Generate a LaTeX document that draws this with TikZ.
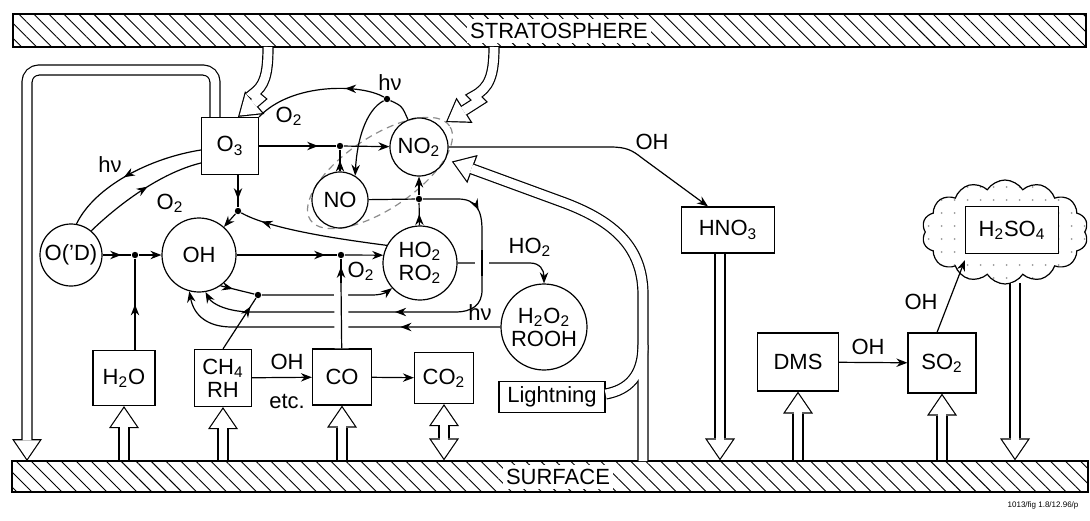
\documentclass[tikz,border=0pt]{standalone}
\usepackage{fontspec}
\setmainfont{Liberation Sans}
\usetikzlibrary{arrows.meta,positioning,calc,shapes.geometric,shapes.symbols,patterns.meta,decorations.markings}

\newcommand{\chsub}[1]{\textsubscript{#1}}
\newcommand{\chemfont}{\fontsize{11}{11.5}\selectfont}
\newcommand{\hollowarrow}[2][]{\draw[hollowout,#1] #2; \draw[hollowin,#1] #2;}
\newcommand{\hollowboth}[1]{\draw[hollowbothout] #1; \draw[hollowbothin] #1;}

\tikzset{
  chemtip/.tip={Stealth[length=5.5pt,width=4.2pt]},
  bigtip/.tip={Triangle[length=11pt,width=15pt,line width=0pt]},
  bigtipin/.tip={Triangle[length=9.3pt,width=12.7pt,line width=0pt]},
  hollowout/.style={draw=black, line width=5.6pt, -bigtip},
  hollowin/.style={draw=white, line width=4.4pt, -bigtipin, shorten >=1.07pt},
  hollowbothout/.style={draw=black, line width=5.6pt, bigtip-bigtip},
  hollowbothin/.style={draw=white, line width=4.4pt, bigtipin-bigtipin, shorten >=1.07pt, shorten <=1.07pt},
  shaftout/.style={draw=black, line width=5.6pt},
  shaftin/.style={draw=white, line width=4.4pt}
}

\begin{document}
\begin{tikzpicture}[x=0.5pt, y=-0.5pt, line width=0.6pt,
  every node/.style={font=\chemfont},
  species/.style={draw, circle, inner sep=0pt, align=center},
  specbox/.style={draw, rectangle, inner sep=0pt, align=center},
  jdot/.style={circle, fill, inner sep=0pt, minimum size=3.2pt},
  lbl/.style={inner sep=1pt},
  band/.style={draw, rectangle, inner sep=0pt, pattern={Lines[angle=-45,distance=5.3pt,line width=0.45pt]}},
  bandlbl/.style={fill=white, inner xsep=1.5pt, inner ysep=0pt, minimum height=12pt},
  noxring/.style={draw=black!45, dash pattern=on 3.5pt off 2.5pt, ellipse, inner sep=0pt, minimum width=84pt, minimum height=36pt, rotate=34},
  cloudy/.style={draw, cloud, cloud puffs=14, cloud puff arc=115, aspect=1.6, minimum width=83pt, minimum height=52pt, inner sep=0pt,
    path picture={\foreach \i in {0,...,14}{\foreach \j in {0,...,8}{\fill[black!40] ([shift={(\i*6.5pt+3pt,\j*6.5pt+3pt)}]path picture bounding box.south west) circle[radius=0.5pt];}}}},
  arr/.style={-chemtip},
  midarr/.style={postaction={decorate}, decoration={markings, mark=at position #1 with {\arrow{chemtip}}}},
  midarr/.default=0.5,
  arrdot/.style={postaction={decorate}, decoration={markings, mark=at position -#1 with {\arrow{chemtip}}}},
  arrdot/.default=4pt,
  bridge/.style={preaction={draw, white, line width=7pt}}
]
  \useasboundingbox (0,0) rectangle (1090,520);

  % boundaries
  \node[band, minimum width=536.5pt, minimum height=16.5pt] (strat) at (549.5,30.5) {};
  \node[band, minimum width=538pt, minimum height=15.5pt] (surf) at (550,476.5) {};
  \node[bandlbl] (stratlbl) at (559,31) {STRATOSPHERE};
  \node[bandlbl] (surflbl) at (558,477) {SURFACE};

  \node[noxring] (ring) at (380,173) {};

  % species
  \node[species, minimum size=31pt] (ODs) at (71,255) {O('D)};
  \node[species, minimum size=37pt] (OH) at (199,255) {OH};
  \node[species, minimum size=28pt] (NO) at (340,200) {NO};
  \node[species, minimum size=29pt] (NO2) at (419,147) {NO\chsub{2}};
  \node[species, minimum size=37pt] (HO2) at (420,263) {HO\chsub{2}\\RO\chsub{2}};
  \node[species, minimum size=43pt] (H2O2) at (544,327) {H\chsub{2}O\chsub{2}\\ROOH};

  \node[specbox, minimum width=28.5pt, minimum height=28.5pt] (O3) at (230,146) {O\chsub{3}};
  \node[specbox, minimum width=31pt, minimum height=27.5pt] (H2O) at (124,378) {H\chsub{2}O};
  \node[specbox, minimum width=28.5pt, minimum height=28.5pt] (CH4) at (223,378) {CH\chsub{4}\\RH};
  \node[specbox, minimum width=29.5pt, minimum height=28pt] (CO) at (342,377) {CO};
  \node[specbox, minimum width=29.5pt, minimum height=25.5pt] (CO2) at (444,378) {CO\chsub{2}};
  \node[specbox, minimum width=53pt, minimum height=15.5pt] (light) at (552,397) {Lightning};
  \node[specbox, minimum width=46.5pt, minimum height=23pt] (HNO3) at (728,230) {HNO\chsub{3}};
  \node[specbox, minimum width=40.5pt, minimum height=29pt] (DMS) at (798,362) {DMS};
  \node[specbox, minimum width=34pt, minimum height=30pt] (SO2) at (942,363) {SO\chsub{2}};
  \node[cloudy] (cloud) at (1005,232) {};
  \node[specbox, fill=white, minimum width=46.5pt, minimum height=23.5pt] (H2SO4) at (1012,230) {H\chsub{2}SO\chsub{4}};

  % junctions
  \node[jdot] (j1) at (135,255) {};
  \node[jdot] (j2) at (238,211) {};
  \node[jdot] (j3) at (258,295) {};
  \node[jdot] (j4) at (341,255) {};
  \node[jdot] (j5) at (340,146) {};
  \node[jdot] (j6) at (419,199) {};
  \node[jdot] (j7) at (387,99) {};

  % ozone and NOx
  \draw[arrdot=9pt] (O3) -- (j5);
  \draw[arr] (j5) -- (NO2);
  \draw[midarr] (NO) -- (j5);
  \draw (NO2.112) .. controls (402,106) .. (j7);
  \draw[midarr=0.3] (j7) .. controls (362,84) and (292,82) .. (O3.north east);
  \draw[arr] (j7) .. controls (366,110) and (357,140) .. (NO.58);
  \draw[midarr] (HO2) -- (j6);
  \draw[arr] (j6) -- (NO2);
  \draw (NO) -- (j6);
  \node[lbl] (lhva) at (390,83) {hν};
  \node[lbl] (lO2a) at (289,116) {O\chsub{2}};

  \draw[midarr=0.55] ([yshift=-2pt]O3.west) .. controls (150,158) and (95,186) .. (ODs.80);
  \draw[midarr=0.55] (ODs.50) .. controls (118,205) and (160,173) .. ([yshift=-8.5pt]O3.west);
  \node[lbl] (lhvb) at (110,165) {hν};
  \node[lbl] (lO2b) at (170,203) {O\chsub{2}};

  % OH production and loss
  \draw[arrdot] (O3.south -| j2) -- (j2);
  \draw[arr] (j2) -- (OH);
  \draw[arrdot=11pt] (HO2.152) .. controls (330,238) and (268,228) .. (j2);
  \draw[arrdot=5pt] (ODs) -- (j1);
  \draw[arr] (j1) -- (OH);
  \draw[midarr] (H2O.north -| j1) -- (j1);
  \draw[arrdot=11pt] (OH.-55) -- (j3);
  \draw[arrdot=5pt] (CH4.north) -- (j3);
  \draw[-chemtip] (j3) -- (372,295) .. controls (382,295) and (387,292) .. (HO2.-138);
  \draw[arrdot=6pt] (OH) -- (j4);
  \draw[arr] (j4) -- (HO2.168);
  \node[lbl] (lO2c) at (361,271) {O\chsub{2}};

  \draw[-chemtip, postaction={decorate}, decoration={markings, mark=at position 30pt with {\arrow{chemtip}}, mark=at position 120pt with {\arrow{chemtip}}}]
    (j6) -- (458,199) .. controls (476,199) and (482,210) .. (482,230) -- (482,290)
    .. controls (482,305) and (472,312) .. (455,312) -- (252,312) .. controls (228,312) and (212,304) .. (OH.-80);
  \draw[-chemtip, midarr=50pt] (H2O2) -- (232,327) .. controls (208,327) and (194,316) .. (OH.-105);
  \node[lbl] (lhvc) at (480,313) {hν};
  \draw[-chemtip] (HO2) -- (530,263) .. controls (540,263) and (544,270) .. (H2O2);
  \node[lbl] (lHO2) at (530,247) {HO\chsub{2}};

  \coordinate (xa) at (482,250);
  \coordinate (xb) at (482,276);
  \draw[bridge] (xa) -- (xb);
  \coordinate (cv) at (341,283);
  \draw[bridge] (CO) -- (cv);
  \draw[arrdot] (cv) -- (j4);

  \draw[arr] (CH4) -- (CO);
  \node[lbl] (lOHa) at (287,362) {OH};
  \node[lbl] (letc) at (287,401) {etc.};
  \draw[arr] (CO) -- (CO2);

  % nitric acid and sulphur
  \draw[-chemtip] (NO2) -- (610,147) .. controls (626,147) and (632,150) .. (642,158) -- ([xshift=-10pt]HNO3.north);
  \node[lbl] (lOHb) at (652,142) {OH};
  \draw[arr] (DMS) -- (SO2);
  \node[lbl] (lOHc) at (868,347) {OH};
  \draw[arr] ([xshift=-2.5pt]SO2.north) -- ([yshift=-3pt]H2SO4.south west);
  \node[lbl] (lOHd) at (921,302) {OH};

  % transport
  \hollowarrow[rounded corners=6pt]{([xshift=-7.5pt]O3.north) |- (27,70) -- (27,461)}
  \hollowarrow{(268,47) .. controls (268,76) and (264,86) .. (253,94) -- (259,99) -- ([xshift=4pt]O3.north)}
  \hollowarrow{(494,47) .. controls (494,76) and (489,88) .. (474,96) -- (479,101) -- ([shift={(3pt,2pt)}]NO2.45)}

  \coordinate (lsrc) at (643,461);
  \coordinate (lmerge) at (643,345);
  \draw[shaftout] ([yshift=1.5pt]light.east) .. controls (628,390) and (643,376) .. (lmerge);
  \draw[hollowout] (lsrc) -- (643,295) .. controls (643,248) and (615,222) .. (565,203) -- ([shift={(3pt,-1pt)}]NO2.-25);
  \draw[shaftin] ([yshift=1.5pt]light.east) .. controls (628,390) and (643,376) .. (lmerge);
  \draw[hollowin] (lsrc) -- (643,295) .. controls (643,248) and (615,222) .. (565,203) -- ([shift={(3pt,-1pt)}]NO2.-25);

  \hollowarrow{(H2O.south |- surf.north) -- (H2O.south)}
  \hollowarrow{(CH4.south |- surf.north) -- (CH4.south)}
  \hollowarrow{(CO.south |- surf.north) -- (CO.south)}
  \hollowboth{(CO2.south) -- (CO2.south |- surf.north)}
  \hollowarrow{(DMS.south |- surf.north) -- (DMS.south)}
  \hollowarrow{(SO2.south |- surf.north) -- (SO2.south)}
  \coordinate (hn) at ([xshift=-4pt]HNO3.south);
  \hollowarrow{(hn) -- (hn |- surf.north)}
  \coordinate (sd) at (1015,283);
  \hollowarrow{(sd) -- (sd |- surf.north)}

  \node[font=\fontsize{4}{5}\selectfont] (tag) at (1043,505) {1013/fig 1.8/12.96/p};
\end{tikzpicture}
\end{document}
